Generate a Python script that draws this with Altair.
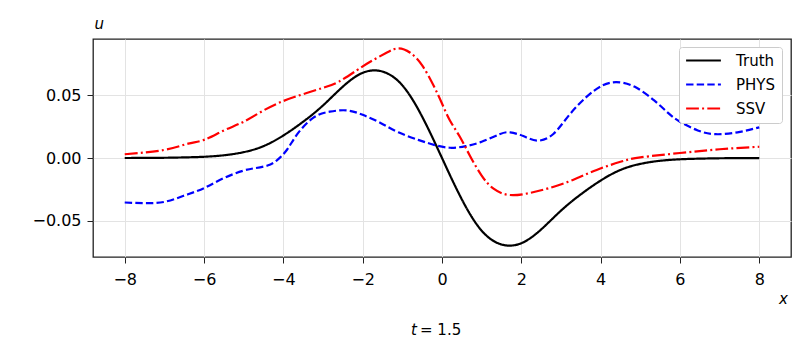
import altair as alt
import pandas as pd

series_names = ["Truth", "PHYS", "SSV"]
series_colors = ["#000000", "#0000ff", "#ff0000"]

truth_x = [-8, -7.5, -7, -6.5, -6, -5.5, -5, -4.5, -4, -3.5, -3, -2.5, -2, -1.5, -1, -0.5, 0,
           0.5, 1, 1.5, 2, 2.5, 3, 3.5, 4, 4.5, 5, 5.5, 6, 6.5, 7, 7.5, 8]
truth_y = [0, 0.0001, 0.0002, 0.0005, 0.001, 0.0022, 0.0047, 0.0095, 0.018, 0.029, 0.042, 0.057,
           0.068, 0.069, 0.058, 0.033, 0.0,
           -0.033, -0.058, -0.069, -0.068, -0.057, -0.042, -0.029, -0.018, -0.0095, -0.0047,
           -0.0022, -0.001, -0.0005, -0.0002, -0.0001, 0]

phys_x = [-8, -7.5, -7, -6.5, -6, -5.5, -5, -4.7, -4.4, -4.15, -3.9, -3.65, -3.25, -2.83, -2.4, -2,
          -1.55, -1.1, -0.6, -0.2, 0.2, 0.6, 1.0, 1.45, 1.72, 2.05, 2.4, 2.8, 3.2, 3.65, 4.05, 4.4,
          4.85, 5.35, 5.7, 6.0, 6.45, 6.9, 7.45, 8]
phys_y = [-0.0355, -0.036, -0.035, -0.030, -0.024, -0.016, -0.010, -0.008, -0.006, -0.0015, 0.007,
          0.019, 0.032, 0.037, 0.038, 0.0345, 0.028, 0.0205, 0.0145, 0.0105, 0.0082, 0.0095, 0.013,
          0.019, 0.0205, 0.0175, 0.0139, 0.019, 0.034, 0.049, 0.058, 0.0605, 0.057, 0.046, 0.036,
          0.029, 0.022, 0.019, 0.0205, 0.0245]

ssv_x = [-8, -7, -6.4, -6, -5.5, -5, -4.5, -4, -3.5, -3, -2.6, -2.15, -1.8, -1.4, -1.1, -0.8, -0.5,
         -0.2, 0, 0.2, 0.45, 0.7, 1.0, 1.3, 1.7, 2.2, 2.7, 3.3, 3.9, 4.5, 5, 6, 7, 8]
ssv_y = [0.003, 0.0065, 0.0115, 0.0145, 0.022, 0.029, 0.038, 0.0455, 0.051, 0.056, 0.061, 0.070,
         0.077, 0.084, 0.0875, 0.084, 0.074, 0.057, 0.0435, 0.030, 0.017, 0.002, -0.014, -0.0245,
         -0.0295, -0.028, -0.024, -0.0175, -0.0095, -0.003, 0.0005, 0.004, 0.007, 0.009]

x_ticks = [-8, -6, -4, -2, 0, 2, 4, 6, 8]
y_ticks = [-0.05, 0.0, 0.05]
x_domain = [-8.8, 8.8]
y_domain = [-0.079, 0.095]

rows = []
for name, xs, ys in [("Truth", truth_x, truth_y), ("PHYS", phys_x, phys_y), ("SSV", ssv_x, ssv_y)]:
    for i, (a, b) in enumerate(zip(xs, ys)):
        rows.append({"series": name, "x": a, "u": b, "i": i})
df = pd.DataFrame(rows)

FONT = "DejaVu Sans"
FS = 15
TICK_FS = 16

lines = alt.Chart(df).mark_line(strokeWidth=2.2, interpolate="natural", clip=True).encode(
    x=alt.X("x:Q", scale=alt.Scale(domain=x_domain, nice=False, zero=False),
            axis=alt.Axis(values=x_ticks, format="d", title="x", titleFontStyle="italic",
                          titleFontWeight="normal", titleFontSize=FS, titleX=690, titleY=41,
                          titleAlign="center", titleBaseline="middle", labelPadding=8)),
    y=alt.Y("u:Q", scale=alt.Scale(domain=y_domain, nice=False, zero=False),
            axis=alt.Axis(values=y_ticks, format=".2f", title="u", titleFontStyle="italic",
                          titleFontWeight="normal", titleFontSize=FS, titleAngle=0, titleX=1,
                          titleY=-11, titleAlign="left", titleBaseline="alphabetic",
                          labelPadding=6)),
    color=alt.Color("series:N", scale=alt.Scale(domain=series_names, range=series_colors),
                    legend=alt.Legend(title=None)),
    strokeDash=alt.StrokeDash("series:N", scale=alt.Scale(domain=series_names,
                              range=[[1, 0], [7.4, 3.2], [12.8, 3.2, 2, 3.2]]),
                              legend=alt.Legend(title=None)),
    order="i:Q",
)

title_df = pd.DataFrame({"t": ["t"], "rest": ["= 1.5"]})
t_italic = alt.Chart(title_df).mark_text(font=FONT, fontSize=FS, fontStyle="italic", align="right",
                                         baseline="middle", color="black").encode(
    text="t:N", x=alt.value(324), y=alt.value(291))
t_rest = alt.Chart(title_df).mark_text(font=FONT, fontSize=FS, align="left",
                                       baseline="middle", color="black").encode(
    text="rest:N", x=alt.value(327), y=alt.value(291))

chart = alt.layer(lines, t_italic, t_rest).properties(
    width=698, height=218,
    autosize=alt.AutoSizeParams(type="none"),
    padding={"left": 85, "top": 31, "right": 6, "bottom": 100},
).configure_view(
    stroke="#222222", strokeWidth=1.3
).configure_axis(
    labelFont=FONT, titleFont=FONT, labelFontSize=TICK_FS, labelColor="black", titleColor="black",
    tickColor="#222222", tickSize=6, tickWidth=1, domain=False,
    grid=True, gridColor="#e3e3e3", gridWidth=1,
).configure_legend(
    orient="none", legendX=586, legendY=8, labelFont=FONT, labelFontSize=FS, labelColor="black",
    symbolType="M-2.9,0H2.9", symbolStrokeWidth=2.2, symbolSize=144, symbolOffset=11,
    fillColor="white", strokeColor="#cccccc", padding=6, cornerRadius=3, rowPadding=8,
    labelOffset=25,
)

chart.save("out.html", embed_options={"renderer": "svg", "actions": False})
